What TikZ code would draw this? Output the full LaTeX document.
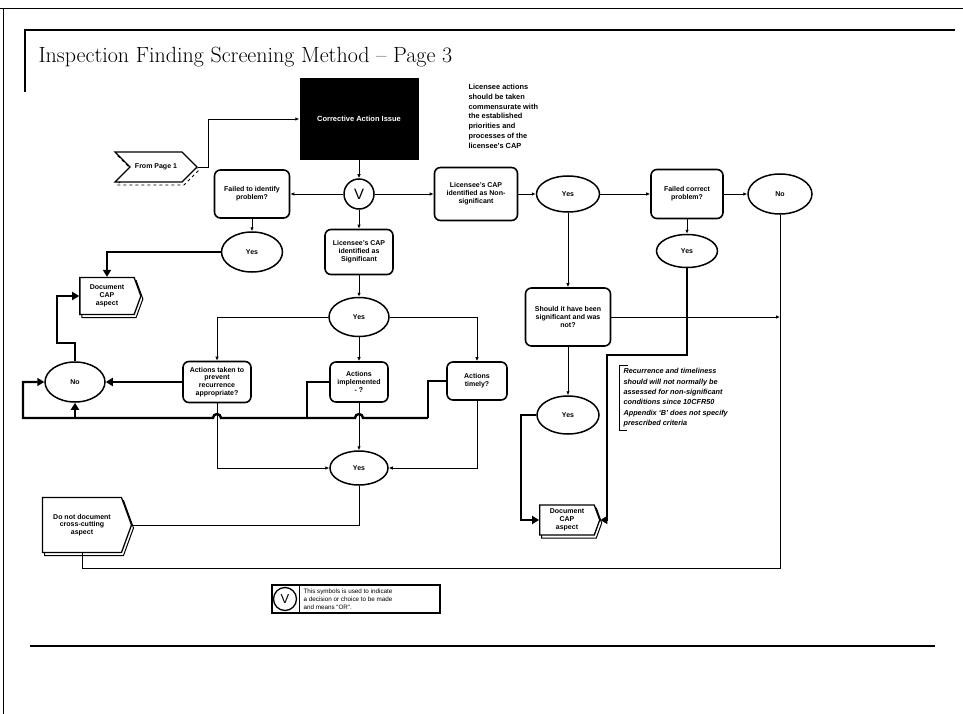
\documentclass[tikz,border=0pt]{standalone}
\usepackage{fontspec}
\newfontfamily\flowsans{Liberation Sans}
\usetikzlibrary{arrows.meta,shapes.geometric,shapes.symbols,shadows}
\newcommand\boxfont{\flowsans\bfseries\fontsize{7}{7.8}\selectfont}
\tikzset{>={Latex[length=4pt,width=3.5pt]},
  proc/.style={draw,rounded corners=6pt,line width=1.6pt,align=center,
    font=\boxfont,inner sep=1pt},
  oval/.style={draw,ellipse,line width=1.5pt,font=\boxfont,inner sep=0pt},
  docbox/.style={draw,signal,signal to=east,signal pointer angle=140,
    line width=1.3pt,fill=white,align=center,font=\boxfont,inner sep=1pt,
    copy shadow={shadow xshift=2pt,shadow yshift=-3pt,draw,fill=white,line width=1pt}},
  flow/.style={->,line width=0.8pt},
  heavy/.style={line width=2.4pt},
  heavyflow/.style={heavy,-{Triangle[length=7pt,width=8pt]}}}

\begin{document}
\begin{tikzpicture}[x=1pt,y=-1pt]
  \useasboundingbox (0,0) rectangle (963,714);
  \draw[line width=0.8pt] (0,8) -- (963,8) (3,8) -- (3,714);
  \draw[line width=1.4pt] (25,92) -- (25,30) -- (955,30);
  \draw[line width=1.4pt] (30,646) -- (935,646);
  \node[anchor=west,font=\fontsize{22}{26}\selectfont] (title) at (35,57)
    {Inspection Finding Screening Method -- Page 3};

  \node[fill=black,text=white,minimum width=119pt,minimum height=82pt,
    font=\flowsans\bfseries\fontsize{7.5}{8}\selectfont] (cai) at (359,119)
    {Corrective Action Issue};
  \node[anchor=north west,align=left,font=\flowsans\bfseries\fontsize{7.4}{9.7}\selectfont]
    (cairule) at (465,81) {Licensee actions\\should be taken\\commensurate with\\the established\\priorities and\\processes of the\\licensee’s CAP};
  \node[draw,signal,signal from=west,signal to=east,line width=1.3pt,fill=white,
    minimum width=82pt,minimum height=30pt,font=\boxfont,
    copy shadow={shadow xshift=2pt,shadow yshift=-3pt,draw,dashed,fill=white,line width=0.8pt}]
    (frompage) at (156,167) {From Page 1};

  \node[draw,circle,line width=1.5pt,minimum size=30pt,inner sep=0pt,
    font=\flowsans\fontsize{15}{15}\selectfont] (vor) at (359,194) {V};
  \node[proc,minimum width=75pt,minimum height=48pt] (failid) at (252,194) {Failed to identify\\problem?};
  \node[proc,minimum width=83pt,minimum height=53pt] (nonsig) at (476,194) {Licensee’s CAP\\identified as Non-\\significant};
  \node[oval,minimum width=63pt,minimum height=36pt] (yesA) at (568,194) {Yes};
  \node[proc,minimum width=72pt,minimum height=49pt] (failcor) at (687,194) {Failed correct\\problem?};
  \node[oval,minimum width=64pt,minimum height=40pt] (noA) at (780,194) {No};

  \node[oval,minimum width=61pt,minimum height=40pt] (yesL) at (252,252) {Yes};
  \node[docbox,minimum width=61pt,minimum height=37pt] (doccapL) at (107,296) {Document\\CAP\\aspect};
  \node[proc,minimum width=68pt,minimum height=45pt] (sig) at (359,252) {Licensee’s CAP\\identified as\\Significant};
  \node[oval,minimum width=60pt,minimum height=39pt] (yesS) at (359,317) {Yes};
  \node[proc,minimum width=68pt,minimum height=41pt] (acttaken) at (217,382) {Actions taken to\\prevent\\recurrence\\appropriate?};
  \node[proc,minimum width=58pt,minimum height=40pt] (actimpl) at (359,382) {Actions\\implemented\\- ?};
  \node[proc,minimum width=60pt,minimum height=38pt] (acttime) at (477,381) {Actions\\timely?};
  \node[oval,minimum width=60pt,minimum height=40pt] (noL) at (75,382) {No};
  \node[oval,minimum width=58pt,minimum height=34pt] (yesB) at (359,468) {Yes};
  \node[docbox,minimum width=89pt,minimum height=55pt] (dontdoc) at (82,525) {Do not document\\cross-cutting\\aspect};

  \node[proc,minimum width=85pt,minimum height=58pt] (should) at (568,317) {Should it have been\\significant and was\\not?};
  \node[oval,minimum width=62pt,minimum height=38pt] (yesR) at (568,415) {Yes};
  \node[oval,minimum width=61pt,minimum height=33pt] (yesC) at (687,251) {Yes};
  \node[docbox,minimum width=60pt,minimum height=30pt] (doccapR) at (567,520) {Document\\CAP\\aspect};
  \node[anchor=north west,align=left,font=\flowsans\bfseries\itshape\fontsize{7.3}{10.3}\selectfont]
    (recnote) at (620,365) {Recurrence and timeliness\\should will not normally be\\assessed for non-significant\\conditions since 10CFR50\\Appendix ‘B’ does not specify\\prescribed criteria};
  \draw[line width=0.8pt] ([xshift=8pt]recnote.north west) -| ([xshift=-1pt]recnote.south west) -- ++(8,0);

  \draw[flow] (frompage.east) -- ++(10,0) |- (cai.west);
  \draw[flow] (cai) -- (vor);
  \draw[flow] (vor) -- (failid);
  \draw[flow] (vor) -- (nonsig);
  \draw[flow] (nonsig) -- (yesA);
  \draw[flow] (yesA) -- (failcor);
  \draw[flow] (failcor) -- (noA);
  \draw[flow] (failid) -- (yesL);
  \draw[heavyflow] (yesL.west) -| (doccapL.north);
  \draw[flow] (vor) -- (sig);
  \draw[flow] (sig) -- (yesS);
  \draw[flow] (yesS.west) -| (acttaken.north);
  \draw[flow] (yesS) -- (actimpl);
  \draw[flow] (yesS.east) -| (acttime.north);
  \draw[heavyflow] (acttaken) -- (noL);
  \draw[heavyflow] (noL.north) |- (57,343) |- (doccapL.west);
  \draw[heavy] (acttime.west) -| (428,418) coordinate (loopR);
  \draw[heavy] (actimpl.west) -| (307,418);
  \draw[heavyflow] (loopR) -- (363,418) arc[start angle=0,end angle=180,radius=4pt]
    -- (221,418) arc[start angle=0,end angle=180,radius=4pt] -- (23,418) |- (noL.west);
  \draw[heavyflow] (noL.south |- loopR) -- (noL.south);
  \draw[flow] (acttaken.south) |- (yesB.west);
  \draw[flow] (actimpl) -- (yesB);
  \draw[flow] (acttime.south) |- (yesB.east);
  \draw[line width=0.8pt] (yesB.south) |- (dontdoc.east);

  \draw[flow] (yesA) -- (should);
  \draw[flow] (should) -- (yesR);
  \draw[heavyflow] (yesR.west) -- ++(-15,0) |- (doccapR.west);
  \draw[flow] (failcor) -- (yesC);
  \draw[heavyflow] (yesC.south) |- (607,355) |- (doccapR.east);
  \draw[line width=0.8pt] (noA.south) |- (dontdoc.south |- 0,568) -- (dontdoc.south);
  \draw[flow] (should.east) -- (should.east -| noA.south);

  \node[draw,line width=1.2pt,minimum width=168pt,minimum height=28pt] (legend) at (356,599) {};
  \node[draw,circle,line width=1.3pt,minimum size=23pt,inner sep=0pt,
    font=\flowsans\fontsize{13}{13}\selectfont] (legendv) at (285,599) {V};
  \draw[line width=0.8pt] (legend.north -| 299,0) -- (legend.south -| 299,0);
  \node[anchor=west,align=left,font=\flowsans\fontsize{6.3}{8}\selectfont] (legendtxt) at (300,599)
    {This symbols is used to indicate\\a decision or choice to be made\\and means “OR”.};
\end{tikzpicture}
\end{document}
